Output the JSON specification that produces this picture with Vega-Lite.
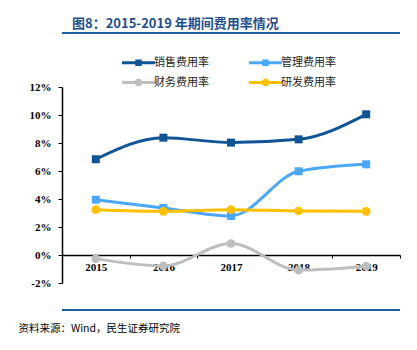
{
  "$schema": "https://vega.github.io/schema/vega-lite/v6.json",
  "width": 338,
  "height": 196,
  "autosize": {"type": "none"},
  "padding": {"left": 62, "top": 87, "right": 17, "bottom": 67},
  "background": "white",
  "title": {
    "text": "图8：2015-2019 年期间费用率情况",
    "anchor": "start",
    "frame": "group",
    "dx": 10,
    "offset": 1,
    "font": "Noto Sans CJK SC",
    "fontSize": 13,
    "fontWeight": "bold",
    "color": "#1F4E8C"
  },
  "data": {
    "values": [
      {"year": "2015", "series": "销售费用率", "value": 6.84},
      {"year": "2016", "series": "销售费用率", "value": 8.38},
      {"year": "2017", "series": "销售费用率", "value": 8.03},
      {"year": "2018", "series": "销售费用率", "value": 8.26},
      {"year": "2019", "series": "销售费用率", "value": 10.05},
      {"year": "2015", "series": "管理费用率", "value": 3.95},
      {"year": "2016", "series": "管理费用率", "value": 3.36},
      {"year": "2017", "series": "管理费用率", "value": 2.79},
      {"year": "2018", "series": "管理费用率", "value": 5.98},
      {"year": "2019", "series": "管理费用率", "value": 6.48},
      {"year": "2015", "series": "财务费用率", "value": -0.26},
      {"year": "2016", "series": "财务费用率", "value": -0.78},
      {"year": "2017", "series": "财务费用率", "value": 0.82},
      {"year": "2018", "series": "财务费用率", "value": -1.08},
      {"year": "2019", "series": "财务费用率", "value": -0.8},
      {"year": "2015", "series": "研发费用率", "value": 3.24},
      {"year": "2016", "series": "研发费用率", "value": 3.12},
      {"year": "2017", "series": "研发费用率", "value": 3.24},
      {"year": "2018", "series": "研发费用率", "value": 3.14},
      {"year": "2019", "series": "研发费用率", "value": 3.12}
    ]
  },
  "encoding": {
    "x": {
      "field": "year",
      "type": "nominal",
      "scale": {"paddingInner": 0, "paddingOuter": 0},
      "axis": {
        "orient": "bottom",
        "offset": -28,
        "labelAngle": 0,
        "domainColor": "#000000",
        "domainWidth": 1.5,
        "tickColor": "#000000",
        "tickSize": 3,
        "tickBand": "extent",
        "labelPadding": 3,
        "labelFont": "Liberation Serif",
        "labelFontWeight": "bold",
        "labelFontSize": 11,
        "labelColor": "#000000",
        "title": "资料来源：Wind，民生证券研究院",
        "titleFont": "Noto Sans CJK SC",
        "titleFontSize": 10.5,
        "titleFontWeight": "normal",
        "titleColor": "#000000",
        "titleX": -44,
        "titleY": 73,
        "titleAlign": "left",
        "titleBaseline": "middle"
      }
    },
    "y": {
      "field": "value",
      "type": "quantitative",
      "scale": {"domain": [-2, 12], "nice": false, "zero": false},
      "axis": {
        "values": [-2, 0, 2, 4, 6, 8, 10, 12],
        "labelExpr": "datum.value + '%'",
        "grid": false,
        "domainColor": "#000000",
        "domainWidth": 1.5,
        "tickColor": "#000000",
        "tickSize": 4,
        "labelPadding": 7,
        "labelFont": "Liberation Serif",
        "labelFontWeight": "bold",
        "labelFontSize": 11,
        "labelColor": "#000000",
        "title": null
      }
    },
    "color": {
      "field": "series",
      "type": "nominal",
      "title": null,
      "scale": {
        "domain": ["销售费用率", "管理费用率", "财务费用率", "研发费用率"],
        "range": ["#0F5596", "#4BA7F8", "#BEBEBE", "#FFC000"]
      }
    }
  },
  "layer": [
    {
      "mark": {"type": "line", "interpolate": "monotone", "strokeWidth": 3}
    },
    {
      "transform": [{"filter": "datum.series === '销售费用率' || datum.series === '管理费用率'"}],
      "mark": {"type": "point", "shape": "square", "filled": true, "opacity": 1, "size": 64}
    },
    {
      "transform": [{"filter": "datum.series === '财务费用率' || datum.series === '研发费用率'"}],
      "mark": {"type": "point", "shape": "circle", "filled": true, "opacity": 1, "size": 75}
    },
    {
      "transform": [{"filter": "false"}],
      "mark": {"type": "point", "filled": true},
      "encoding": {
        "shape": {
          "field": "series",
          "type": "nominal",
          "title": null,
          "scale": {
            "domain": ["销售费用率", "管理费用率", "财务费用率", "研发费用率"],
            "range": [
              "M-3.3,-0.3H3.3V0.3H-3.3Z M-0.65,-0.65H0.65V0.65H-0.65Z",
              "M-3.3,-0.3H3.3V0.3H-3.3Z M-0.65,-0.65H0.65V0.65H-0.65Z",
              "M-3.3,-0.3H3.3V0.3H-3.3Z M0.75,0A0.75,0.75,0,1,1,-0.75,0A0.75,0.75,0,1,1,0.75,0Z",
              "M-3.3,-0.3H3.3V0.3H-3.3Z M0.75,0A0.75,0.75,0,1,1,-0.75,0A0.75,0.75,0,1,1,0.75,0Z"
            ]
          }
        }
      }
    },
    {
      "data": {"values": [{"pos": 15.86}, {"pos": -3.93}]},
      "mark": {"type": "rule", "color": "#1E5FA8", "strokeWidth": 2, "clip": false},
      "encoding": {
        "x": null,
        "color": null,
        "y": {"field": "pos", "type": "quantitative"}
      }
    }
  ],
  "config": {
    "view": {"stroke": null},
    "legend": {
      "orient": "none",
      "legendX": 71,
      "legendY": -30,
      "direction": "horizontal",
      "columns": 2,
      "symbolSize": 100,
      "symbolStrokeWidth": 0,
      "symbolOpacity": 1,
      "labelOffset": 10,
      "columnPadding": 40,
      "rowPadding": 8,
      "labelFont": "Noto Sans CJK SC",
      "labelFontSize": 11,
      "labelColor": "#222222",
      "labelLimit": 0
    }
  }
}
